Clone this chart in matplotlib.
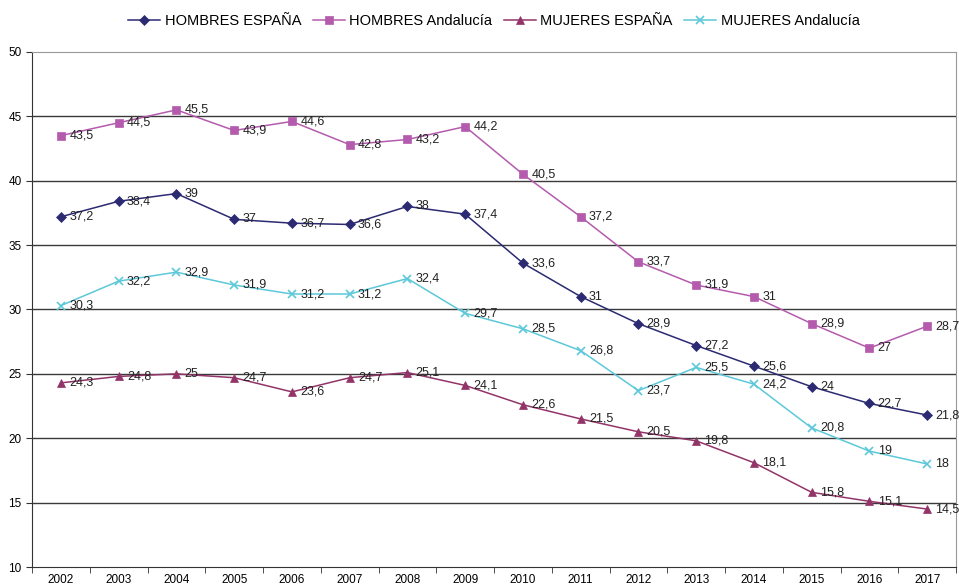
import numpy as np
import matplotlib.pyplot as plt

plt.rcParams['font.family'] = ['Liberation Sans', 'DejaVu Sans']

years = ['2002', '2003', '2004', '2005', '2006', '2007', '2008', '2009',
         '2010', '2011', '2012', '2013', '2014', '2015', '2016', '2017']
hombres_espana = [37.2, 38.4, 39, 37, 36.7, 36.6, 38, 37.4, 33.6, 31, 28.9, 27.2, 25.6, 24, 22.7, 21.8]
hombres_andalucia = [43.5, 44.5, 45.5, 43.9, 44.6, 42.8, 43.2, 44.2, 40.5, 37.2, 33.7, 31.9, 31, 28.9, 27, 28.7]
mujeres_espana = [24.3, 24.8, 25, 24.7, 23.6, 24.7, 25.1, 24.1, 22.6, 21.5, 20.5, 19.8, 18.1, 15.8, 15.1, 14.5]
mujeres_andalucia = [30.3, 32.2, 32.9, 31.9, 31.2, 31.2, 32.4, 29.7, 28.5, 26.8, 23.7, 25.5, 24.2, 20.8, 19, 18]

series = [
    ('HOMBRES ESPAÑA', hombres_espana, '#2B2A72', 'D', 5),
    ('HOMBRES Andalucía', hombres_andalucia, '#B45BAD', 's', 6),
    ('MUJERES ESPAÑA', mujeres_espana, '#933468', '^', 6),
    ('MUJERES Andalucía', mujeres_andalucia, '#5CC8D9', 'x', 6),
]

fig = plt.figure(figsize=(9.59, 5.88), dpi=100)
ax = fig.add_axes([0.0334, 0.0357, 0.9635, 0.876])

x = np.arange(len(years))
for name, vals, col, mk, ms in series:
    ax.plot(x, vals, color=col, marker=mk, markersize=ms, linewidth=1.1, label=name,
            markeredgewidth=1.2 if mk == 'x' else 0.5)
    for xi, v in zip(x, vals):
        ax.annotate(f"{v:g}".replace('.', ','), (xi, v), xytext=(6, 0),
                    textcoords='offset points', ha='left', va='center',
                    fontsize=9, color='#222222')

ax.set_xlim(-0.5, len(years) - 0.5)
ax.set_ylim(10, 50)
ax.set_yticks(np.arange(10, 51, 5))
for yv in range(15, 50, 5):
    ax.axhline(yv, color='#3a3a3a', linewidth=1, zorder=0)

ax.set_xticks(x)
ax.set_xticklabels(years, fontsize=8.5)
ax.set_xticks(np.arange(-0.5, len(years)), minor=True)
ax.tick_params(axis='x', which='major', length=0, pad=5)
ax.tick_params(axis='x', which='minor', length=4, color='#333333')
ax.tick_params(axis='y', labelsize=8.5, length=4, color='#333333')

ax.spines['left'].set_color('#333333')
ax.spines['bottom'].set_color('#333333')
ax.spines['top'].set_color('#999999')
ax.spines['right'].set_color('#999999')

fig.legend(loc='center', bbox_to_anchor=(0.515, 0.964), ncol=4, frameon=False,
           fontsize=10.5, handlelength=2.2, handletextpad=0.3, columnspacing=0.8)

fig.savefig('out.png', dpi=100)
